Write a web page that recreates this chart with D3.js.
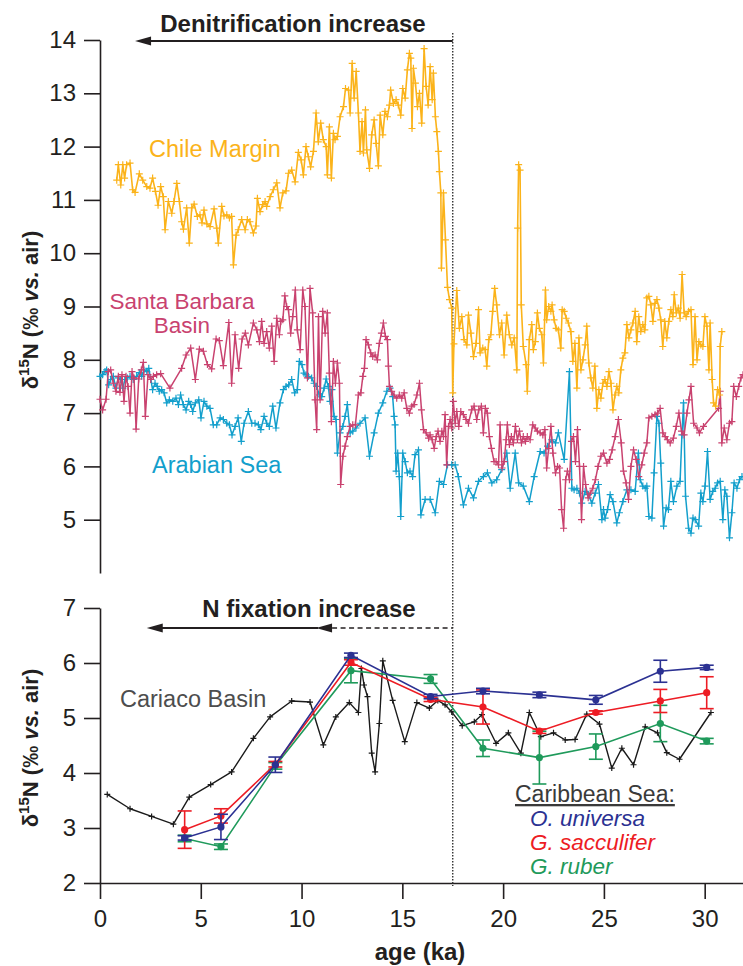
<!DOCTYPE html>
<html>
<head>
<meta charset="utf-8">
<script src="https://cdn.jsdelivr.net/npm/d3@7"></script>
<style>
  body { margin: 0; background: #fff; }
  svg { display: block; font-family: "Liberation Sans", Arial, Helvetica, sans-serif; }
  text { white-space: pre; }
</style>
</head>
<body>
<div id="chart"></div>
<script>
// [age (ka), d15N (permil)]
const chileMargin = [
  [0.83,11.37],[0.91,11.66],[1.03,11.28],[1.13,11.66],[1.22,11.41],[1.32,11.66],[1.49,11.69],[1.62,11.19],
  [1.74,11.14],[1.95,11.49],[2.12,11.37],[2.32,11.25],[2.48,11.22],[2.61,11.41],[2.75,11.16],[2.88,10.9],
  [3.01,11.25],[3.14,11.06],[3.23,10.44],[3.39,10.97],[3.56,10.75],[3.67,10.97],[3.81,11.31],[3.94,10.97],
  [4.05,10.59],[4.14,10.45],[4.3,10.85],[4.43,10.19],[4.55,10.85],[4.67,10.92],[4.83,10.69],[4.96,10.72],
  [5.06,10.57],[5.16,10.81],[5.3,10.55],[5.46,10.5],[5.66,10.83],[5.79,10.47],[5.87,10.19],[6.04,10.88],
  [6.15,10.7],[6.29,10.72],[6.42,10.66],[6.53,10.69],[6.62,9.78],[6.75,10.34],[6.86,10.44],[7.03,10.63],
  [7.2,10.44],[7.31,10.63],[7.44,10.59],[7.61,10.38],[7.74,10.51],[7.81,11.03],[7.94,10.78],[8.07,10.91],
  [8.19,10.97],[8.27,10.88],[8.44,11.06],[8.6,11.19],[8.77,11.32],[8.93,10.85],[9.07,11.13],[9.23,11.17],
  [9.35,11.5],[9.51,11.56],[9.68,11.34],[9.84,11.89],[9.98,11.75],[10.09,11.47],[10.22,12.0],[10.34,11.81],
  [10.45,11.62],[10.59,11.91],[10.72,12.63],[10.83,12.09],[10.95,12.44],[11.08,12.13],[11.22,12.0],[11.28,11.47],
  [11.38,12.37],[11.48,11.41],[11.58,12.25],[11.66,12.13],[11.78,12.19],[11.91,12.56],[12.08,12.75],[12.18,13.09],
  [12.33,13.06],[12.41,12.63],[12.51,13.56],[12.61,12.91],[12.71,13.41],[12.82,12.63],[12.9,11.91],[13.0,12.47],
  [13.07,11.88],[13.17,12.69],[13.23,11.94],[13.37,11.59],[13.48,12.22],[13.6,12.5],[13.7,12.06],[13.81,11.64],
  [13.9,12.59],[14.03,12.22],[14.14,12.66],[14.26,12.56],[14.36,12.78],[14.42,13.06],[14.56,12.81],[14.69,12.88],
  [14.8,12.78],[14.92,12.59],[15.02,13.09],[15.14,12.91],[15.25,13.44],[15.35,13.75],[15.42,13.66],[15.48,12.34],
  [15.55,13.47],[15.65,13.19],[15.75,12.75],[15.85,13.0],[15.96,12.44],[16.08,13.84],[16.18,13.13],[16.28,12.78],
  [16.38,13.5],[16.48,12.88],[16.54,13.38],[16.64,12.56],[16.71,12.28],[16.79,11.91],[16.84,11.53],[16.91,11.13],
  [16.94,9.72],[17.04,11.13],[17.14,10.25],[17.24,9.36],[17.34,9.13],[17.45,8.97],[17.5,7.38],[17.56,8.3],
  [17.7,9.3],[17.83,8.59],[17.95,8.81],[18.06,8.38],[18.2,8.28],[18.28,8.84],[18.4,8.5],[18.53,8.06],
  [18.66,8.31],[18.78,8.94],[18.86,8.13],[18.99,8.22],[19.11,8.19],[19.19,7.88],[19.29,8.38],[19.39,8.47],
  [19.48,8.91],[19.58,9.34],[19.68,9.03],[19.82,8.47],[19.93,8.69],[20.05,8.09],[20.18,8.84],[20.31,8.47],
  [20.43,8.28],[20.55,8.41],[20.68,7.81],[20.72,10.47],[20.77,11.66],[20.84,11.56],[20.9,9.03],[21.0,8.25],
  [21.14,7.91],[21.2,7.41],[21.3,8.38],[21.42,8.66],[21.5,8.19],[21.6,8.34],[21.7,8.88],[21.8,8.59],
  [21.92,8.47],[22.0,7.94],[22.1,9.31],[22.16,8.75],[22.26,9.0],[22.37,8.91],[22.43,9.03],[22.53,8.75],
  [22.63,8.59],[22.74,8.56],[22.86,8.22],[22.93,8.94],[23.03,8.91],[23.13,8.78],[23.24,8.69],[23.36,8.53],
  [23.46,7.97],[23.56,8.31],[23.66,7.47],[23.76,8.41],[23.86,7.81],[23.96,8.0],[24.07,8.28],[24.15,8.63],
  [24.25,7.94],[24.35,7.66],[24.45,7.47],[24.55,7.88],[24.65,7.09],[24.75,7.44],[24.85,7.28],[24.95,7.56],
  [25.05,7.63],[25.15,7.5],[25.25,7.78],[25.35,7.56],[25.45,7.06],[25.55,7.34],[25.64,7.5],[25.74,7.38],
  [25.84,7.81],[25.94,8.03],[26.04,8.13],[26.14,8.66],[26.24,8.41],[26.34,8.56],[26.44,8.69],[26.55,8.91],
  [26.63,8.34],[26.73,8.81],[26.83,8.53],[26.93,8.66],[27.03,8.56],[27.13,9.16],[27.23,9.19],[27.33,9.03],
  [27.43,8.72],[27.53,9.06],[27.63,9.13],[27.73,8.97],[27.82,8.75],[27.92,8.25],[28.02,8.72],[28.12,8.41],
  [28.22,8.72],[28.32,8.94],[28.42,8.81],[28.49,9.22],[28.59,8.88],[28.69,8.97],[28.78,8.78],[28.88,9.6],
  [28.98,8.88],[29.08,8.81],[29.2,8.91],[29.32,8.94],[29.42,7.91],[29.52,8.81],[29.62,8.0],[29.71,8.34],
  [29.81,8.28],[29.91,8.25],[30.01,8.81],[30.11,8.63],[30.21,7.81],[30.27,8.69],[30.37,7.63],[30.44,7.19],
  [30.54,7.13],[30.64,7.44],[30.74,7.34],[30.77,8.25],[30.85,8.53]
];

const santaBarbara = [
  [0.0,7.26],[0.13,7.06],[0.3,7.26],[0.41,7.78],[0.53,7.81],[0.66,7.56],[0.79,7.41],[0.91,7.69],
  [0.99,7.39],[1.09,7.72],[1.19,7.22],[1.29,7.69],[1.39,7.5],[1.49,7.0],[1.59,7.78],[1.69,7.66],
  [1.79,6.7],[1.92,7.64],[2.05,7.81],[2.15,7.95],[2.25,6.94],[2.38,7.72],[2.52,7.63],[2.65,7.69],
  [2.81,7.72],[3.01,7.74],[3.47,7.47],[4.05,7.84],[4.27,8.09],[4.5,8.22],[4.73,7.63],[4.93,8.2],
  [5.13,8.16],[5.33,7.91],[5.54,7.83],[5.76,8.39],[5.92,8.36],[6.12,7.89],[6.39,8.7],[6.53,7.56],
  [6.7,8.47],[6.88,7.84],[7.05,8.39],[7.21,8.5],[7.36,8.28],[7.61,8.69],[7.78,8.56],[7.91,8.34],
  [8.02,8.72],[8.14,8.31],[8.27,8.53],[8.4,8.22],[8.52,8.63],[8.64,7.97],[8.77,8.78],[8.9,8.47],
  [8.97,8.72],[9.07,8.75],[9.17,9.2],[9.26,9.0],[9.35,8.94],[9.46,8.5],[9.56,8.81],[9.69,9.31],
  [9.79,8.56],[9.93,8.19],[10.06,9.31],[10.17,9.0],[10.29,7.66],[10.42,9.34],[10.55,8.88],[10.67,7.25],
  [10.75,6.69],[10.84,8.81],[10.92,7.25],[11.05,8.91],[11.17,8.5],[11.28,8.88],[11.38,7.75],[11.48,6.84],
  [11.58,7.97],[11.68,7.56],[11.78,7.94],[11.88,7.56],[11.94,5.66],[12.05,6.19],[12.16,6.38],[12.27,6.56],
  [12.41,6.75],[12.54,6.78],[12.67,6.78],[12.82,7.34],[12.94,7.38],[13.04,7.69],[13.12,7.84],[13.2,8.38],
  [13.32,8.28],[13.43,8.13],[13.53,8.06],[13.65,8.09],[13.76,8.0],[13.86,8.31],[13.96,8.5],[14.06,8.69],
  [14.16,8.44],[14.26,8.38],[14.31,7.88],[14.36,7.5],[14.47,7.41],[14.59,7.34],[14.72,7.28],[14.85,7.34],
  [14.97,7.28],[15.09,7.38],[15.22,7.09],[15.35,7.0],[15.47,7.13],[15.58,7.16],[15.72,7.34],[15.85,7.56],
  [15.95,7.06],[16.05,6.69],[16.18,6.63],[16.3,6.53],[16.38,6.59],[16.48,6.5],[16.58,6.34],[16.68,6.56],
  [16.77,6.66],[16.87,6.47],[16.96,6.66],[17.04,6.56],[17.12,6.97],[17.2,6.03],[17.29,6.75],[17.37,6.88],
  [17.45,6.72],[17.53,7.22],[17.62,6.81],[17.7,7.03],[17.8,6.75],[17.9,7.03],[18.03,6.97],[18.16,6.88],
  [18.28,6.81],[18.44,7.06],[18.56,7.13],[18.69,6.88],[18.79,7.06],[18.92,7.13],[19.02,6.63],[19.12,7.09],
  [19.22,7.0],[19.32,6.56],[19.42,6.34],[19.55,6.09],[19.65,6.09],[19.77,6.03],[19.85,6.78],[19.95,5.97],
  [20.05,6.09],[20.15,6.5],[20.21,6.78],[20.31,6.41],[20.41,6.56],[20.51,6.44],[20.61,6.75],[20.71,6.5],
  [20.81,6.66],[20.91,6.44],[21.0,6.56],[21.11,6.47],[21.2,6.56],[21.34,6.5],[21.47,6.78],[21.59,6.72],
  [21.7,6.66],[21.84,6.63],[21.97,6.59],[22.07,6.69],[22.16,5.97],[22.26,6.34],[22.37,6.75],[22.47,6.25],
  [22.6,5.88],[22.7,6.0],[22.8,5.97],[22.9,5.19],[23.0,4.84],[23.1,5.75],[23.19,5.91],[23.29,5.75],
  [23.39,6.47],[23.49,6.56],[23.59,6.09],[23.69,6.69],[23.79,6.0],[23.89,5.0],[23.99,6.0],[24.09,5.66],
  [24.22,5.41],[24.32,5.5],[24.45,5.59],[24.58,5.75],[24.71,6.0],[24.85,6.19],[24.98,6.25],[25.15,6.06],
  [25.28,6.13],[25.41,6.31],[25.56,6.56],[25.72,6.88],[25.86,6.44],[25.97,5.91],[26.1,5.69],[26.22,5.38],
  [26.34,6.0],[26.47,6.31],[26.6,6.13],[26.73,5.81],[26.88,6.03],[27.0,6.25],[27.13,6.44],[27.23,6.91],
  [27.38,6.94],[27.54,6.97],[27.66,7.0],[27.79,7.09],[27.92,6.63],[28.04,6.56],[28.15,6.5],[28.29,6.44],
  [28.45,6.53],[28.59,6.75],[28.72,7.0],[28.85,6.66],[28.98,6.59],[29.12,7.0],[29.22,7.25],[29.32,7.5],
  [29.45,6.81],[29.62,6.72],[29.74,6.63],[29.94,6.75],[30.69,7.09],[30.77,7.41],[30.85,6.44],[30.97,6.72],
  [31.1,6.5],[31.23,6.81],[31.35,6.84],[31.44,7.5],[31.57,7.31],[31.69,7.5],[31.8,7.66],[31.9,7.72]
];

const arabianSea = [
  [0.0,7.69],[0.13,7.72],[0.25,7.78],[0.33,7.81],[0.43,7.53],[0.53,7.63],[0.66,7.69],[0.79,7.47],
  [0.91,7.66],[1.03,7.63],[1.13,7.47],[1.24,7.63],[1.36,7.66],[1.49,7.69],[1.65,7.63],[1.82,7.69],
  [1.95,7.76],[2.07,7.69],[2.18,7.81],[2.32,7.78],[2.42,7.84],[2.52,7.63],[2.61,7.44],[2.73,7.56],
  [2.84,7.5],[2.94,7.41],[3.06,7.44],[3.18,7.38],[3.31,7.19],[3.44,7.25],[3.61,7.22],[3.77,7.28],
  [3.89,7.16],[4.0,7.34],[4.13,7.16],[4.27,7.06],[4.4,7.22],[4.5,7.16],[4.6,7.03],[4.73,7.19],
  [4.9,7.25],[5.01,6.91],[5.16,7.22],[5.3,7.13],[5.46,7.09],[5.62,6.78],[5.79,6.78],[5.96,6.91],
  [6.12,6.88],[6.29,6.81],[6.42,6.78],[6.55,6.59],[6.7,6.75],[6.85,6.91],[7.01,6.47],[7.15,6.81],
  [7.36,7.03],[7.53,6.81],[7.69,6.81],[7.86,6.78],[7.98,6.69],[8.14,6.94],[8.27,6.81],[8.4,6.75],
  [8.57,7.13],[8.73,6.72],[8.93,7.19],[9.1,7.44],[9.23,7.5],[9.36,7.53],[9.51,7.63],[9.66,7.38],
  [9.79,7.44],[9.89,7.97],[10.02,7.91],[10.12,7.75],[10.22,7.72],[10.34,7.69],[10.5,7.66],[10.62,7.56],
  [10.75,7.5],[10.88,7.34],[11.0,7.31],[11.12,7.47],[11.22,7.64],[11.33,7.5],[11.41,7.22],[11.51,7.44],
  [11.61,6.94],[11.71,6.88],[11.78,6.25],[11.91,6.63],[12.05,6.75],[12.16,6.94],[12.27,7.16],[12.41,6.63],
  [12.54,6.66],[12.7,6.72],[12.9,6.81],[13.15,6.91],[13.37,6.19],[13.6,6.63],[13.81,7.0],[14.03,7.19],
  [14.23,7.41],[14.39,7.47],[14.52,7.31],[14.59,6.94],[14.64,6.78],[14.69,5.91],[14.77,6.25],[14.85,5.81],
  [14.92,5.06],[15.02,6.25],[15.14,6.09],[15.25,5.88],[15.38,5.91],[15.51,5.81],[15.63,6.22],[15.8,6.31],
  [15.92,5.09],[16.13,5.38],[16.38,5.38],[16.63,5.13],[16.84,5.72],[17.04,5.66],[17.24,6.03],[17.45,6.03],
  [17.62,6.03],[17.78,5.81],[18.03,5.28],[18.28,5.59],[18.53,5.41],[18.78,5.72],[19.02,5.81],[19.22,5.88],
  [19.44,5.69],[19.68,5.75],[19.93,5.94],[20.18,6.25],[20.35,5.59],[20.6,6.25],[20.77,5.69],[21.0,5.63],
  [21.3,5.34],[21.54,5.81],[21.84,6.28],[22.03,6.25],[22.2,6.38],[22.41,6.5],[22.6,6.44],[22.74,6.63],
  [23.03,6.13],[23.29,7.78],[23.41,5.59],[23.52,5.56],[23.66,5.59],[23.79,5.5],[23.9,5.31],[24.07,5.53],
  [24.23,5.47],[24.4,5.31],[24.57,5.5],[24.73,5.66],[24.9,5.0],[24.98,5.19],[25.06,5.03],[25.18,5.19],
  [25.31,5.47],[25.45,5.34],[25.64,4.94],[25.77,5.13],[25.94,5.34],[26.14,5.56],[26.34,5.56],[26.55,5.53],
  [26.71,6.25],[26.8,5.75],[26.93,5.63],[27.05,5.59],[27.13,5.63],[27.23,5.06],[27.38,5.03],[27.49,5.88],
  [27.63,6.94],[27.73,6.81],[27.82,6.06],[27.96,4.88],[28.09,5.22],[28.2,5.19],[28.32,5.72],[28.45,5.34],
  [28.62,5.63],[28.78,5.72],[28.87,6.59],[28.95,7.19],[29.05,5.44],[29.2,4.84],[29.32,4.75],[29.42,5.03],
  [29.53,5.0],[29.7,4.88],[29.81,5.5],[29.91,5.34],[30.02,5.63],[30.14,6.28],[30.27,5.38],[30.4,5.53],
  [30.52,5.59],[30.64,5.69],[30.77,5.72],[30.9,5.0],[31.0,5.56],[31.1,5.44],[31.23,4.66],[31.35,5.13],
  [31.46,5.69],[31.6,5.59],[31.73,5.75],[31.85,5.81]
];

const cariacoBasin = [
  [0.36,3.61],[1.49,3.35],[2.56,3.21],[3.64,3.07],[4.43,3.56],[5.49,3.79],[6.53,4.02],[7.61,4.63],
  [8.44,5.02],[9.51,5.31],[10.42,5.29],[11.08,4.51],[11.7,5.02],[12.37,5.28],[12.82,5.1],[12.97,5.9],
  [13.1,5.6],[13.27,5.39],[13.48,4.36],[13.65,4.02],[13.86,4.9],[14.03,6.04],[14.52,5.32],[15.12,4.57],
  [15.72,5.28],[16.34,5.18],[16.76,5.32],[17.12,5.24],[17.45,5.11],[17.97,4.86],[18.57,4.93],[18.95,5.06],
  [19.65,4.54],[20.26,4.73],[20.88,4.36],[21.3,5.1],[21.87,4.66],[22.5,4.73],[23.08,4.6],[23.57,4.61],
  [24.15,5.07],[24.78,4.89],[25.39,4.09],[25.89,4.45],[26.47,4.15],[27.05,4.84],[27.66,4.73],[28.12,4.37],
  [28.75,4.25],[30.31,5.1]
];

// Caribbean Sea foraminifera
const foramAges      = [4.2, 6.0, 8.7, 12.45, 16.4, 19.0, 21.8, 24.6, 27.8, 30.1];
const universa       = [2.82, 3.02, 4.15, 6.14, 5.39, 5.49, 5.42, 5.33, 5.85, 5.92];
const universaErr    = [0.04, 0.23, 0.14, 0.04, 0.04, 0.05, 0.05, 0.08, 0.2, 0.04];
const sacculifer     = [2.97, 3.22, 4.16, 6.01, 5.34, 5.2, 4.76, 5.1, 5.31, 5.46];
const sacculiferErr  = [0.34, 0.13, 0.05, 0.05, 0.04, 0.31, 0.04, 0.03, 0.21, 0.29];
const ruber          = [2.81, 2.66, 4.13, 5.86, 5.71, 4.45, 4.28, 4.48, 4.9, 4.58];
const ruberErr       = [0.06, 0.05, 0.06, 0.22, 0.08, 0.15, 0.48, 0.23, 0.33, 0.05];

const topTicks = [5, 6, 7, 8, 9, 10, 11, 12, 13, 14];
const botTicks = [2, 3, 4, 5, 6, 7];
const ageTicks = [0, 5, 10, 15, 20, 25, 30];

const W = 743, H = 966;
const ink = "#231f20";
const cOrange = "#fbb31a", cPink = "#c9426f", cCyan = "#139fcc";
const cBlue = "#2b3192", cRed = "#ed1c24", cGreen = "#1f9a5b";

const svg = d3.select("#chart").append("svg").attr("width", W).attr("height", H);

const x = d3.scaleLinear().domain([0, 32]).range([100, 745]);
const yTop = d3.scaleLinear().domain([4, 14]).range([573, 40]);
const yBot = d3.scaleLinear().domain([2, 7]).range([883, 608]);

function styleAxis(g) {
  g.attr("font-size", 24).attr("font-family", null);
  g.select(".domain").attr("stroke", ink).attr("stroke-width", 1.6);
  g.selectAll(".tick line").attr("stroke", ink).attr("stroke-width", 1.6);
  g.selectAll(".tick text").attr("fill", ink);
}

svg.append("g").attr("transform", "translate(100,0)")
  .call(d3.axisLeft(yTop).tickValues(topTicks).tickFormat(d3.format("d"))
    .tickSize(16).tickSizeOuter(0).tickPadding(8))
  .call(styleAxis);
svg.append("g").attr("transform", "translate(100,0)")
  .call(d3.axisLeft(yBot).tickValues(botTicks).tickFormat(d3.format("d"))
    .tickSize(16).tickSizeOuter(0).tickPadding(8))
  .call(styleAxis);
svg.append("g").attr("transform", "translate(0,883)")
  .call(d3.axisBottom(x).tickValues(ageTicks).tickFormat(d3.format("d"))
    .tickSize(16).tickSizeOuter(0).tickPadding(11))
  .call(styleAxis);

function yLabel(cy) {
  const t = svg.append("text")
    .attr("transform", `translate(38,${cy}) rotate(-90)`)
    .attr("text-anchor", "middle").attr("font-weight", "bold")
    .attr("font-size", 22).attr("fill", ink);
  t.append("tspan").text("δ");
  t.append("tspan").attr("dy", -9).attr("font-size", 15).text("15");
  t.append("tspan").attr("dy", 9).text("N (‰ ");
  t.append("tspan").attr("font-style", "italic").text("vs.");
  t.append("tspan").text(" air)");
}
yLabel(310);
yLabel(748);

svg.append("text").attr("x", 420).attr("y", 960).attr("text-anchor", "middle")
  .attr("font-weight", "bold").attr("font-size", 24).attr("fill", ink).text("age (ka)");

// dotted line at deglaciation
svg.append("line")
  .attr("x1", x(17.5)).attr("x2", x(17.5)).attr("y1", 33).attr("y2", 886)
  .attr("stroke", "#333").attr("stroke-width", 1.4).attr("stroke-dasharray", "1.5,1.5");

// series drawing
function crosses(data, ys, r) {
  return data.map(d => `M${x(d[0]) - r},${ys(d[1])}h${2 * r}M${x(d[0])},${ys(d[1]) - r}v${2 * r}`).join("");
}
function drawSeries(data, ys, color, r, w) {
  const line = d3.line().x(d => x(d[0])).y(d => ys(d[1]));
  svg.append("path").datum(data).attr("d", line)
    .attr("fill", "none").attr("stroke", color).attr("stroke-width", w).attr("stroke-linejoin", "round");
  svg.append("path").attr("d", crosses(data, ys, r))
    .attr("fill", "none").attr("stroke", color).attr("stroke-width", 1.2);
}

drawSeries(arabianSea, yTop, cCyan, 3.5, 1.5);
drawSeries(santaBarbara, yTop, cPink, 3.5, 1.5);
drawSeries(chileMargin, yTop, cOrange, 3.5, 1.6);
drawSeries(cariacoBasin, yBot, "#1a1a1a", 3, 1.4);

function drawForam(vals, errs, color) {
  const pts = foramAges.map((a, i) => ({ a: a, v: vals[i], e: errs[i] }));
  const g = svg.append("g").attr("stroke", color).attr("fill", color);
  g.append("path").datum(pts)
    .attr("d", d3.line().x(d => x(d.a)).y(d => yBot(d.v)))
    .attr("fill", "none").attr("stroke-width", 1.6);
  const eb = g.selectAll("g.eb").data(pts).join("g").attr("stroke-width", 1.6);
  eb.append("line").attr("x1", d => x(d.a)).attr("x2", d => x(d.a))
    .attr("y1", d => yBot(d.v - d.e)).attr("y2", d => yBot(d.v + d.e));
  eb.append("line").attr("x1", d => x(d.a) - 7).attr("x2", d => x(d.a) + 7)
    .attr("y1", d => yBot(d.v + d.e)).attr("y2", d => yBot(d.v + d.e));
  eb.append("line").attr("x1", d => x(d.a) - 7).attr("x2", d => x(d.a) + 7)
    .attr("y1", d => yBot(d.v - d.e)).attr("y2", d => yBot(d.v - d.e));
  eb.append("circle").attr("cx", d => x(d.a)).attr("cy", d => yBot(d.v)).attr("r", 3.6).attr("stroke", "none");
}
drawForam(ruber, ruberErr, cGreen);
drawForam(sacculifer, sacculiferErr, cRed);
drawForam(universa, universaErr, cBlue);

// arrows
function arrowHead(tipX, y) {
  svg.append("path").attr("d", `M${tipX},${y}L${tipX + 16},${y - 4.5}L${tipX + 16},${y + 4.5}Z`).attr("fill", ink);
}
svg.append("line").attr("x1", x(1.74) + 10).attr("x2", x(17.5)).attr("y1", 41).attr("y2", 41)
  .attr("stroke", ink).attr("stroke-width", 2);
arrowHead(x(1.74), 41);

svg.append("line").attr("x1", x(2.32) + 10).attr("x2", x(10.72) + 2).attr("y1", 628).attr("y2", 628)
  .attr("stroke", ink).attr("stroke-width", 2);
svg.append("line").attr("x1", x(10.72) + 16).attr("x2", x(17.5)).attr("y1", 628).attr("y2", 628)
  .attr("stroke", ink).attr("stroke-width", 1.6).attr("stroke-dasharray", "5,3.5");
arrowHead(x(2.32), 628);
arrowHead(x(10.72), 628);

svg.append("text").attr("x", 293).attr("y", 32).attr("text-anchor", "middle")
  .attr("font-weight", "bold").attr("font-size", 24).attr("fill", ink).text("Denitrification increase");
svg.append("text").attr("x", 309).attr("y", 617).attr("text-anchor", "middle")
  .attr("font-weight", "bold").attr("font-size", 24).attr("fill", ink).text("N fixation increase");

// series labels
function label(txt, lx, ly, color, anchor, italic, size) {
  return svg.append("text").attr("x", lx).attr("y", ly).attr("text-anchor", anchor || "start")
    .attr("font-size", size || 23.5).attr("fill", color).attr("font-style", italic ? "italic" : null).text(txt);
}
label("Chile Margin", 149, 157, cOrange);
label("Santa Barbara", 182, 309, cPink, "middle", false, 22.5);
label("Basin", 182, 333, cPink, "middle", false, 22.5);
label("Arabian Sea", 152, 473, cCyan);
label("Cariaco Basin", 120, 707, "#4d4d4d");
label("Caribbean Sea:", 515, 802, "#3a3a3a", "start", false, 23).attr("text-decoration", "underline");
label("O. universa", 530, 826, cBlue, "start", true, 22.5);
label("G. sacculifer", 530, 850, cRed, "start", true, 22.5);
label("G. ruber", 530, 874, cGreen, "start", true, 22.5);
</script>
</body>
</html>
